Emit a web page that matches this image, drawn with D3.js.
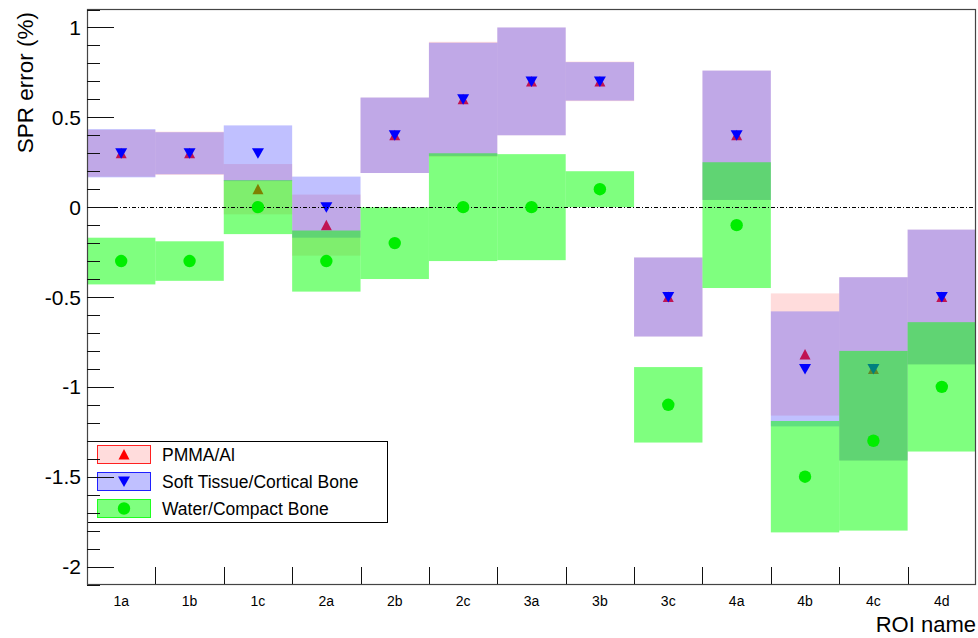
<!DOCTYPE html>
<html><head><meta charset="utf-8">
<script src="https://cdn.jsdelivr.net/npm/d3@7"></script>
<style>
body{margin:0;background:#fff}
svg{display:block}
text{font-family:"Liberation Sans",Arial,Helvetica,sans-serif;fill:#000}
</style></head>
<body>
<svg id="c" width="978" height="638"></svg>
<script>
// ---- data ----
const categories = ["1a","1b","1c","2a","2b","2c","3a","3b","3c","4a","4b","4c","4d"];
const pmmaValues  = [0.3, 0.3, 0.1, -0.1, 0.4, 0.6, 0.7, 0.7, -0.5, 0.4, -0.82, -0.9, -0.5];
const pmmaErrors  = [0.13, 0.12, 0.14, 0.17, 0.21, 0.32, 0.30, 0.11, 0.22, 0.36, 0.34, 0.51, 0.375];
const softValues  = [0.3, 0.3, 0.3, 0.0, 0.4, 0.6, 0.7, 0.7, -0.5, 0.4, -0.9, -0.9, -0.5];
const softErrors  = [0.134, 0.117, 0.155, 0.17, 0.21, 0.315, 0.30, 0.107, 0.22, 0.36, 0.32, 0.51, 0.375];
const waterValues = [-0.3, -0.3, 0.0, -0.3, -0.2, 0.0, 0.0, 0.1, -1.1, -0.1, -1.5, -1.3, -1.0];
const waterErrors = [0.13, 0.11, 0.15, 0.17, 0.2, 0.30, 0.295, 0.1, 0.21, 0.35, 0.31, 0.5, 0.36];
const seriesNames = ["PMMA/Al", "Soft Tissue/Cortical Bone", "Water/Compact Bone"];
const yMajorTicks = [-2, -1.5, -1, -0.5, 0, 0.5, 1];
const yTitle = "SPR error (%)";
const xTitle = "ROI name";

// ---- setup ----
const svg = d3.select("#c");
const x = d3.scaleBand().domain(categories).range([87, 976]).padding(0);
const y = d3.scaleLinear().domain([-2.1, 1.1]).range([584.5, 9.5]);

const series = [
  {vals: pmmaValues, errs: pmmaErrors, fill: "rgba(255,40,40,0.16)", col: "#ff0000", stroke: "#ff2020", sym: "up"},
  {vals: softValues, errs: softErrors, fill: "rgba(60,60,255,0.32)", col: "#0000ff", stroke: "#2020ff", sym: "down"},
  {vals: waterValues, errs: waterErrors, fill: "rgba(0,255,0,0.5)", col: "#00ee00", stroke: "#20ff20", sym: "circle"}
];

function marker(g, sym, col, cx, cy) {
  if (sym === "circle") {
    g.append("circle").attr("cx", cx).attr("cy", cy).attr("r", 6.2).attr("fill", col);
  } else if (sym === "up") {
    g.append("path").attr("d", "M-5.5,5L5.5,5L0,-5.5Z").attr("fill", col)
      .attr("transform", `translate(${cx},${cy})`);
  } else {
    g.append("path").attr("d", "M-6,-5L6,-5L0,5.5Z").attr("fill", col)
      .attr("transform", `translate(${cx},${cy})`);
  }
}

const plot = svg.append("g");
series.forEach((s, si) => {
  const g = plot.append("g");
  g.selectAll("rect").data(categories).join("rect")
    .attr("x", d => x(d)).attr("width", x.bandwidth())
    .attr("y", (d, i) => y(s.vals[i] + s.errs[i]))
    .attr("height", (d, i) => y(s.vals[i] - s.errs[i]) - y(s.vals[i] + s.errs[i]))
    .attr("fill", s.fill);
  if (si === 2) {
    plot.append("line").attr("x1", 87).attr("x2", 976).attr("y1", Math.round(y(0)) + 0.5).attr("y2", Math.round(y(0)) + 0.5)
      .attr("stroke", "#000").attr("stroke-width", 1).attr("stroke-dasharray", "4,2,1,2");
  }
  const gm = plot.append("g");
  categories.forEach((c, i) => marker(gm, s.sym, s.col, x(c) + x.bandwidth() / 2, y(s.vals[i])));
});

// ---- legend ----
const leg = svg.append("g");
leg.append("rect").attr("x", 87.5).attr("y", 441.5).attr("width", 300).attr("height", 81)
  .attr("fill", "none").attr("stroke", "#000").attr("stroke-width", 1);
series.forEach((s, i) => {
  const top = 445 + i * 27;
  leg.append("rect").attr("x", 97.5).attr("y", top + 0.5).attr("width", 53).attr("height", 18)
    .attr("fill", s.fill).attr("stroke", s.stroke).attr("stroke-width", 1);
  marker(leg, s.sym, s.col, 124, top + 9.5);
  leg.append("text").attr("x", 162).attr("y", top + 16).attr("font-size", 17.5).text(seriesNames[i]);
});

// ---- axes / frame ----
const ax = svg.append("g");
ax.append("rect").attr("x", 87.5).attr("y", 9.5).attr("width", 888).attr("height", 575)
  .attr("fill", "none").attr("stroke", "#444").attr("stroke-width", 1.2);
const yMinor = d3.range(-21, 12).map(v => v / 10).filter(v => !yMajorTicks.some(m => Math.abs(m - v) < 1e-9));
ax.selectAll(".ymin").data(yMinor).join("line")
  .attr("x1", 87).attr("x2", 100)
  .attr("y1", d => Math.round(y(d)) + 0.5).attr("y2", d => Math.round(y(d)) + 0.5)
  .attr("stroke", "#111");
ax.selectAll(".ymaj").data(yMajorTicks).join("line")
  .attr("x1", 87).attr("x2", 114)
  .attr("y1", d => Math.round(y(d)) + 0.5).attr("y2", d => Math.round(y(d)) + 0.5)
  .attr("stroke", "#111");
ax.selectAll(".ylab").data(yMajorTicks).join("text")
  .attr("x", 81).attr("y", d => y(d) + 7.5).attr("text-anchor", "end").attr("font-size", 21)
  .text(d => String(d));
ax.selectAll(".xt").data(categories.slice(1)).join("line")
  .attr("x1", d => Math.round(x(d)) + 0.5).attr("x2", d => Math.round(x(d)) + 0.5)
  .attr("y1", 584).attr("y2", 567).attr("stroke", "#111");
ax.selectAll(".xlab").data(categories).join("text")
  .attr("x", d => x(d) + x.bandwidth() / 2).attr("y", 606).attr("text-anchor", "middle")
  .attr("font-size", 14).text(d => d);
ax.append("text").attr("x", 976).attr("y", 632).attr("text-anchor", "end").attr("font-size", 22).text(xTitle);
ax.append("text").attr("transform", "translate(33,12) rotate(-90)").attr("text-anchor", "end")
  .attr("font-size", 22.5).text(yTitle);
</script>
</body></html>
